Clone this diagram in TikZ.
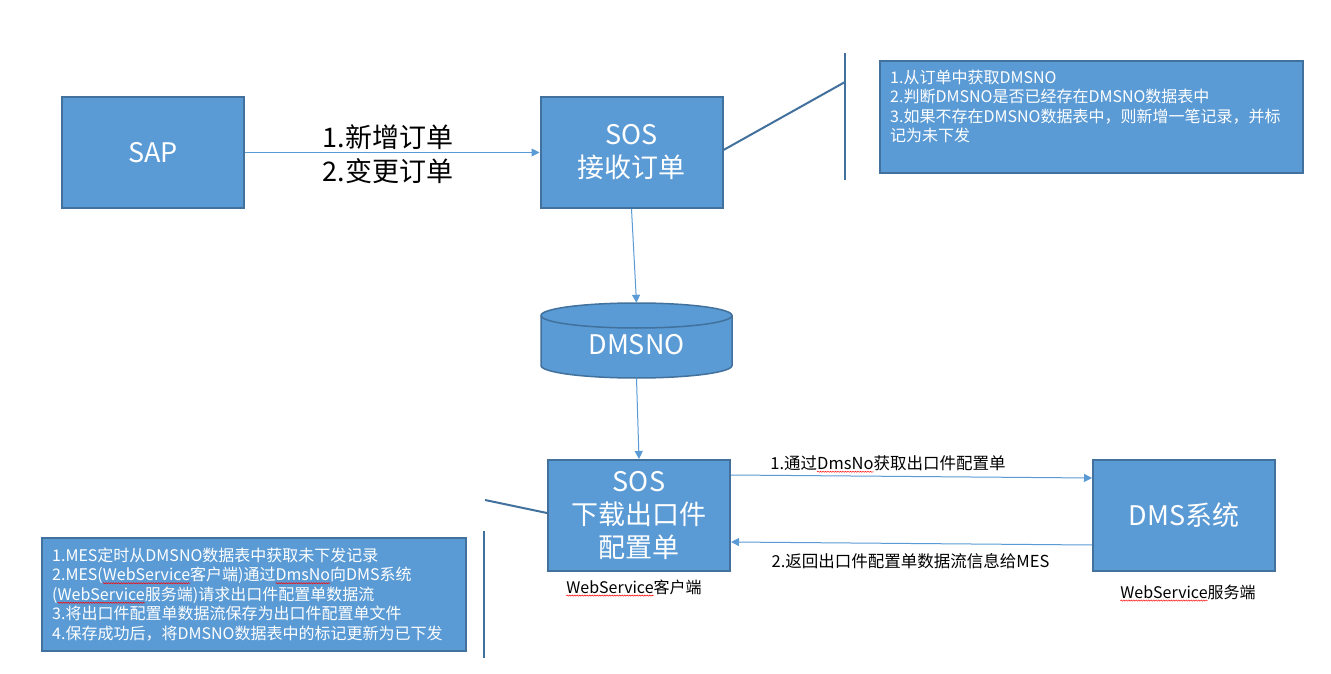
\documentclass[tikz,border=0pt]{standalone}
\usepackage{fontspec}
\setmainfont{Noto Sans CJK SC}
\usetikzlibrary{arrows.meta,calc,decorations.pathmorphing}
\definecolor{boxfill}{HTML}{5B9BD5}
\definecolor{boxline}{HTML}{41719C}
\newlength\rwlen
\newcommand\redwave[1]{\settowidth\rwlen{#1}\rlap{\tikz[overlay]\draw[red, line width=0.5pt, decorate, decoration={snake,amplitude=0.6pt,segment length=2.5pt}] (0pt,-2.5pt) -- (\rwlen,-2.5pt);}#1}
\begin{document}
\begin{tikzpicture}[x=1pt,y=-1pt,
  box/.style={draw=boxline, line width=2pt, fill=boxfill, text=white, align=center, inner sep=0pt, minimum width=182pt, minimum height=111pt, font=\fontsize{27}{33}\selectfont},
  conn/.style={draw=boxfill, line width=1pt, -{Triangle[width=8pt,length=8pt]}},
  call/.style={draw=boxline, line width=2pt},
  note/.style={draw=boxline, line width=2pt, fill=boxfill, inner sep=0pt},
  notetext/.style={text=white, align=left, anchor=north west, inner sep=0pt, font=\fontsize{16}{19.5}\selectfont},
  lbl/.style={font=\fontsize{16.5}{18}\selectfont, inner sep=0pt},
  wslbl/.style={font=\fontsize{16}{18}\selectfont, inner sep=0pt},
  biglbl/.style={font=\fontsize{27}{34}\selectfont, inner sep=0pt, align=center}
]
\useasboundingbox[fill=white] (0,0) rectangle (1331,674);

% main boxes
\node[box] (sap) at (153,152.5) {SAP};
\node[box] (sos1) at (631.5,152.5) {SOS\\接收订单};
\node[box] (sos2) at (639,515.5) {SOS\\下载出口件\\配置单};
\node[box] (dms) at (1184,515.5) {DMS系统};

% database cylinder
\fill[boxfill] (541,315.5) -- (541,365.5) arc[start angle=180, end angle=0, x radius=95.5, y radius=12.5] -- (732,315.5) arc[start angle=0, end angle=-180, x radius=95.5, y radius=12.5] -- cycle;
\draw[boxline, line width=1.5pt] (541,315.5) -- (541,365.5) arc[start angle=180, end angle=0, x radius=95.5, y radius=12.5] -- (732,315.5) arc[start angle=0, end angle=-180, x radius=95.5, y radius=12.5] -- cycle;
\draw[boxline, line width=1.5pt] (541,315.5) arc[start angle=180, end angle=0, x radius=95.5, y radius=12.5];
\node[minimum width=191pt, minimum height=75pt, inner sep=0pt] (db) at (636.5,340.5) {};
\node[inner sep=0pt, text=white, font=\fontsize{27}{33}\selectfont] (dbt) at (636.5,345) {DMSNO};

% connectors
\draw[conn] (sap) -- (sos1);
\node[biglbl] (lab0) at (388,154) {1.新增订单\\2.变更订单};
\draw[conn] (sos1.south) -- (db.north);
\draw[conn] (db.south) -- (sos2.north);
\draw[conn] ([yshift=40.5pt]sos2.east) -- ([yshift=37.5pt]dms.west);
\draw[conn] ([yshift=-29.5pt]dms.west) -- ([yshift=-26.5pt]sos2.east);
\node[lbl] (t1) at (888,463) {1.通过\redwave{DmsNo}获取出口件配置单};
\node[lbl] (t2) at (910.5,561) {2.返回出口件配置单数据流信息给MES};
\node[wslbl] (w1) at (634,587) {\redwave{WebService}客户端};
\node[wslbl] (w2) at (1188,592) {\redwave{WebService}服务端};

% callout 1
\coordinate (c1a) at (845,82);
\coordinate (c1t) at (845,53);
\coordinate (c1b) at (845,180);
\draw[call] ([yshift=2.5pt]sos1.east) -- (c1a);
\draw[call] (c1t) -- (c1b);
\node[note, minimum width=423pt, minimum height=112pt] (n1) at (1091.5,117) {};
\node[notetext] (n1t) at (890,69.5) {1.从订单中获取DMSNO\\2.判断DMSNO是否已经存在DMSNO数据表中\\3.如果不存在DMSNO数据表中，则新增一笔记录，并标\\记为未下发};

% callout 2
\coordinate (c2a) at (485,500);
\coordinate (c2t) at (484,531);
\coordinate (c2b) at (484,658);
\draw[call] ([yshift=2.5pt]sos2.west) -- (c2a);
\draw[call] (c2t) -- (c2b);
\node[note, minimum width=424pt, minimum height=113pt] (n2) at (254,594.5) {};
\node[notetext] (n2t) at (52,547.5) {1.MES定时从DMSNO数据表中获取未下发记录\\2.MES(\redwave{WebService}客户端)通过\redwave{DmsNo}向DMS系统\\(\redwave{WebService}服务端)请求出口件配置单数据流\\3.将出口件配置单数据流保存为出口件配置单文件\\4.保存成功后，将DMSNO数据表中的标记更新为已下发};
\end{tikzpicture}
\end{document}
